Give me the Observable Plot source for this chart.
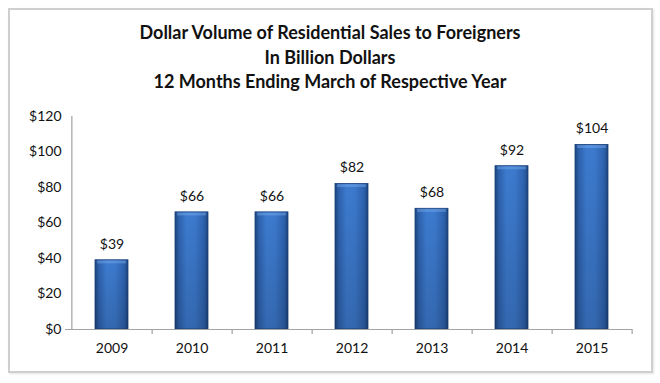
<!DOCTYPE html>
<html>
<head>
<meta charset="utf-8">
<script src="https://cdn.jsdelivr.net/npm/d3@7"></script>
<script src="https://cdn.jsdelivr.net/npm/@observablehq/plot@0.6"></script>
<style>
  html, body { margin: 0; padding: 0; background: #fff; }
  #wrap { position: relative; width: 660px; height: 383px; overflow: hidden; background: #fff; font-family: Lato, "Open Sans", sans-serif; }
  #frame { position: absolute; left: 8px; top: 8px; width: 641px; height: 361px; border: 2px solid #cfcfcf; box-shadow: 1px 1px 2px #e4e4e4; }
  #title { position: absolute; left: 0; top: 20px; width: 660px; text-align: center; font-weight: bold; font-size: 18px; line-height: 24.5px; color: #111; }
  #chart { position: absolute; left: 0; top: 0; }
</style>
</head>
<body>
<div id="wrap">
  <div id="frame"></div>
  <div id="title">Dollar Volume of Residential Sales to Foreigners<br>In Billion Dollars<br>12 Months Ending March of Respective Year</div>
  <div id="chart"></div>
</div>
<script>
const years = ["2009", "2010", "2011", "2012", "2013", "2014", "2015"];
const values = [39, 66, 66, 82, 68, 92, 104];
const yTicks = [0, 20, 40, 60, 80, 100, 120];

const data = years.map((y, i) => ({year: y, value: values[i]}));

const W = 660, H = 383, ML = 70, MR = 28, MT = 116, MB = 54;
const step = (W - ML - MR) / years.length;

const defs = () => {
  const svg = d3.create("svg:defs");
  const g = svg.append("linearGradient").attr("id", "barGrad").attr("x1", 0).attr("x2", 1).attr("y1", 0).attr("y2", 0);
  [[0, "#1c4580"], [0.12, "#2e62ad"], [0.35, "#3d7bcf"], [0.6, "#3c79cd"], [0.88, "#2e62ad"], [1, "#1c4580"]]
    .forEach(([o, c]) => g.append("stop").attr("offset", o).attr("stop-color", c));
  const v = svg.append("linearGradient").attr("id", "barShade").attr("x1", 0).attr("x2", 0).attr("y1", 0).attr("y2", 1);
  [[0, "#000", 0], [1, "#000", 0.15]]
    .forEach(([o, c, a]) => v.append("stop").attr("offset", o).attr("stop-color", c).attr("stop-opacity", a));
  return svg.node();
};

const chart = Plot.plot({
  width: W, height: H,
  marginLeft: ML, marginRight: MR, marginTop: MT, marginBottom: MB,
  style: {background: "transparent", fontFamily: "Lato, 'Open Sans', sans-serif", fontSize: "14px", color: "#111"},
  x: {domain: years, paddingInner: 0.59, paddingOuter: 0.295, axis: null},
  y: {domain: [0, 120], axis: null},
  marks: [
    defs,
    Plot.barY(data, {x: "year", y: "value", fill: "url(#barGrad)", stroke: "#1a3f75", strokeWidth: 0.8}),
    Plot.barY(data, {x: "year", y: "value", fill: "url(#barShade)"}),
    Plot.barY(data, {x: "year", y1: d => d.value, y2: d => d.value - 2, fill: "#7aaeee", insetLeft: 2, insetRight: 2, insetTop: 0.8, fillOpacity: 0.45}),
    Plot.ruleX([0], {x: () => years[0], dx: -step / 2, y1: 0, y2: 120, stroke: "#a3a3a3", strokeWidth: 1.2}),
    Plot.ruleY([0], {stroke: "#a3a3a3", strokeWidth: 1.2, insetLeft: -5}),
    Plot.ruleY(yTicks, {y: d => d, x1: years[0], x2: years[0], dx: -step / 2, stroke: "#a3a3a3", strokeWidth: 1.2, insetLeft: -5}),
    Plot.ruleX(years, {x: d => d, dx: step / 2, y1: 0, y2: 0, insetBottom: -5, stroke: "#a3a3a3", strokeWidth: 1.2}),
    Plot.axisY({ticks: yTicks, tickFormat: d => "$" + d, tickSize: 0, tickPadding: 9, fontSize: 14, fill: "#111", label: null}),
    Plot.axisX({tickSize: 0, tickPadding: 14, fontSize: 14, fill: "#111", label: null}),
    Plot.text(data, {x: "year", y: "value", text: d => "$" + d.value, dy: -16, fontSize: 14, fill: "#111"})
  ]
});
document.getElementById("chart").appendChild(chart);
</script>
</body>
</html>
